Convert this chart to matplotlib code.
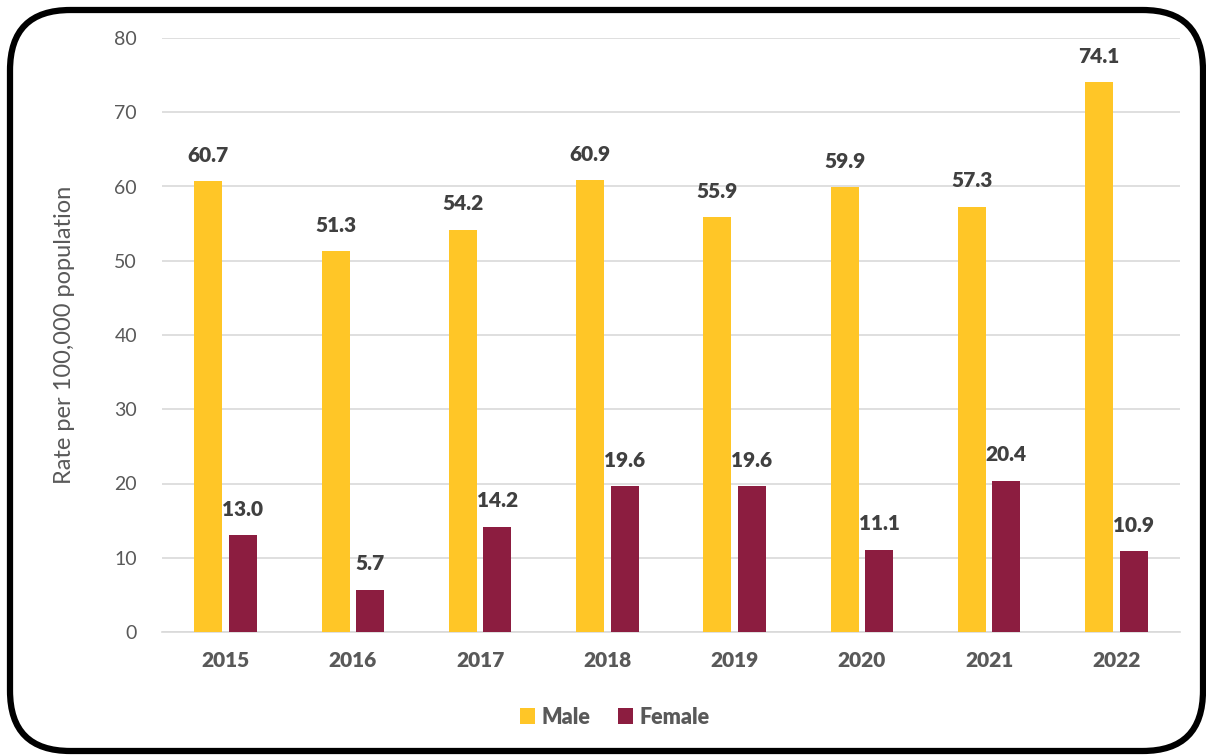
import matplotlib.pyplot as plt
import numpy as np
from matplotlib.patches import FancyBboxPatch

plt.rcParams['font.family'] = ['Lato', 'DejaVu Sans']

years = ['2015', '2016', '2017', '2018', '2019', '2020', '2021', '2022']
male = [60.7, 51.3, 54.2, 60.9, 55.9, 59.9, 57.3, 74.1]
female = [13.0, 5.7, 14.2, 19.6, 19.6, 11.1, 20.4, 10.9]

gold = '#FFC627'
maroon = '#8C1D40'
tick_grey = '#595959'
label_grey = '#404040'

fig = plt.figure(figsize=(12.06, 7.55), dpi=100)
ax = fig.add_axes([162 / 1206, 123 / 755, 1018 / 1206, 594 / 755])

x = np.arange(len(years))
w = 0.22
off = 0.135
bars_m = ax.bar(x - off, male, w, color=gold, label='Male', zorder=3)
bars_f = ax.bar(x + off, female, w, color=maroon, label='Female', zorder=3)

# value labels sit about 25 px above each bar
for bars, vals in ((bars_m, male), (bars_f, female)):
    for b, v in zip(bars, vals):
        ax.annotate(f'{v:.1f}', (b.get_x() + b.get_width() / 2, v), xytext=(0, 18.5),
                    textcoords='offset points', ha='center', va='center',
                    fontsize=15, fontweight='heavy', color=label_grey)

ax.set_xlim(-0.5, len(years) - 0.5)
ax.set_ylim(0, 80)
ax.set_yticks(range(0, 81, 10))
ax.set_xticks(x)
ax.set_xticklabels(years, fontweight='heavy')
ax.tick_params(axis='x', length=0, pad=14, labelsize=15, colors=tick_grey)
ax.tick_params(axis='y', length=0, pad=18, labelsize=14, colors=tick_grey)
ax.grid(axis='y', color='#D9D9D9', linewidth=1.2, zorder=0)
for side in ['top', 'right', 'left']:
    ax.spines[side].set_visible(False)
ax.spines['bottom'].set_color('#D9D9D9')
ax.spines['bottom'].set_linewidth(1.2)
ax.set_ylabel('Rate per 100,000 population', fontsize=17, color=tick_grey, labelpad=28)

leg = fig.legend(loc='center', bbox_to_anchor=(615 / 1206, 1 - 717 / 755), ncol=2,
                 frameon=False, fontsize=15.5, handlelength=0.7, handleheight=0.7,
                 handletextpad=0.3, columnspacing=1.3)
for t in leg.get_texts():
    t.set_color(tick_grey)
    t.set_fontweight('heavy')

# rounded frame around the chart
frame = FancyBboxPatch((10 / 1206, 4 / 755), 1193 / 1206, 741 / 755,
                       boxstyle='round,pad=0,rounding_size=0.05',
                       transform=fig.transFigure, fill=False,
                       edgecolor='black', linewidth=4.5, mutation_aspect=1206 / 755)
fig.patches.append(frame)

fig.savefig('out.png', dpi=100)
